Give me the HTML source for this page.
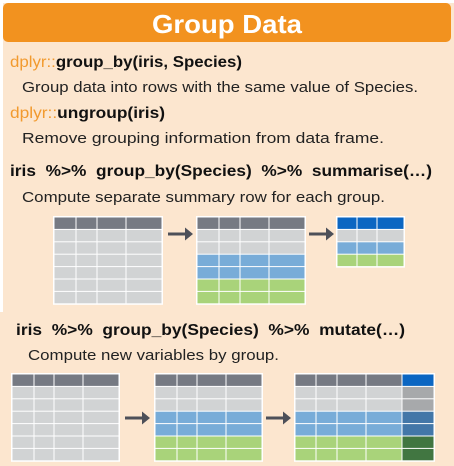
<!DOCTYPE html>
<html><head><meta charset="utf-8"><style>
html,body{margin:0;padding:0;background:#fff}
svg{display:block}
text{font-family:"Liberation Sans",sans-serif}
</style></head><body>
<svg id="s" width="454" height="466" viewBox="0 0 454 466">
<rect x="0" y="0" width="454" height="466" fill="#fce6cf"/>
<rect x="0" y="0" width="454" height="3" fill="#fff"/>
<rect x="0" y="0" width="3" height="312" fill="#fff"/>
<rect x="3" y="3" width="448" height="39" rx="5" fill="#f2921f"/>
<text x="227" y="33" text-anchor="middle" font-size="26" font-weight="bold" fill="#fff" textLength="150" lengthAdjust="spacingAndGlyphs">Group Data</text>

<text x="10" y="67" font-size="16" textLength="232" lengthAdjust="spacingAndGlyphs"><tspan fill="#f29a2e">dplyr::</tspan><tspan font-weight="bold" fill="#111">group_by(iris, Species)</tspan></text>
<text x="22" y="92" font-size="15" fill="#222" textLength="396" lengthAdjust="spacingAndGlyphs">Group data into rows with the same value of Species.</text>
<text x="10" y="118" font-size="16" textLength="155" lengthAdjust="spacingAndGlyphs"><tspan fill="#f29a2e">dplyr::</tspan><tspan font-weight="bold" fill="#111">ungroup(iris)</tspan></text>
<text x="22" y="143" font-size="15" fill="#222" textLength="362" lengthAdjust="spacingAndGlyphs">Remove grouping information from data frame.</text>
<text x="10" y="176" font-size="16" font-weight="bold" fill="#111" textLength="422" lengthAdjust="spacingAndGlyphs" xml:space="preserve">iris  %&gt;%  group_by(Species)  %&gt;%  summarise(…)</text>
<text x="22" y="202" font-size="15" fill="#222" textLength="363" lengthAdjust="spacingAndGlyphs">Compute separate summary row for each group.</text>
<text x="16" y="335" font-size="16" font-weight="bold" fill="#111" textLength="389" lengthAdjust="spacingAndGlyphs" xml:space="preserve">iris  %&gt;%  group_by(Species)  %&gt;%  mutate(…)</text>
<text x="28" y="360" font-size="15" fill="#222" textLength="251" lengthAdjust="spacingAndGlyphs">Compute new variables by group.</text>
<g id="g"></g>
</svg>
<script>
const C={h:"#767a83",g:"#d1d3d4",b:"#78acd8",n:"#a9d37a",d:"#0b66c2",G:"#a7a9ab",B:"#4377a8",N:"#417641"};
const plainRows=["h","g","g","g","g","g","g","g"];
const groupedRows=["h","g","g","b","b","n","n"];
const summaryRows=["d","g","b","n"];
const mutateCol=["d","G","G","B","B","N","N"];
const svg=document.getElementById('g');
const NS="http://www.w3.org/2000/svg";
function table(name,x,y,cols,rows,rh,extra){
  const g=document.createElementNS(NS,'g');
  
  
  let w=cols.reduce((a,b)=>a+b,0)+(extra?extra.w:0);
  const bg=document.createElementNS(NS,'rect');
  bg.setAttribute('x',x-1);bg.setAttribute('y',y-1);bg.setAttribute('width',w+2);bg.setAttribute('height',rows.length*rh+2);bg.setAttribute('fill','#fff');
  g.appendChild(bg);
  rows.forEach((r,i)=>{
    let cx=x;
    const cells=cols.map(c=>({w:c,col:r}));
    if(extra)cells.push({w:extra.w,col:extra.colors[i]});
    cells.forEach(c=>{
      const e=document.createElementNS(NS,'rect');
      e.setAttribute('x',cx+0.5);e.setAttribute('y',y+i*rh+0.5);
      e.setAttribute('width',c.w-1);e.setAttribute('height',rh-1);
      e.setAttribute('fill',C[c.col]);
      
      
      g.appendChild(e);cx+=c.w;
    });
  });
  svg.appendChild(g);
}
function arrow(x,y,name){
  const p=document.createElementNS(NS,'path');
  p.setAttribute('d',`M${x} ${y-1.5}h17v-5l8 6.5l-8 6.5v-5h-17z`);
  p.setAttribute('fill','#4d5059');
  
  
  svg.appendChild(p);
}
const cols4=[22,21,29,36];
table('source-table',54,217,cols4,plainRows.slice(0,7),12.4);
arrow(168,234,'arrow-1');
table('grouped-table',197,217,cols4,groupedRows,12.4);
arrow(309,234,'arrow-2');
table('summary-table',337,217,[20,20,27],summaryRows,12.4);
table('mutate-source-table',12,374,[22,20,29,36],plainRows.slice(0,7),12.4);
arrow(125,418,'arrow-3');
table('mutate-grouped-table',155,374,[22,20,29,36],groupedRows,12.4);
arrow(266,418,'arrow-4');
table('mutate-result-table',295,374,[21,21,29,36],groupedRows,12.4,{w:32,colors:mutateCol});
</script>
</body></html>
